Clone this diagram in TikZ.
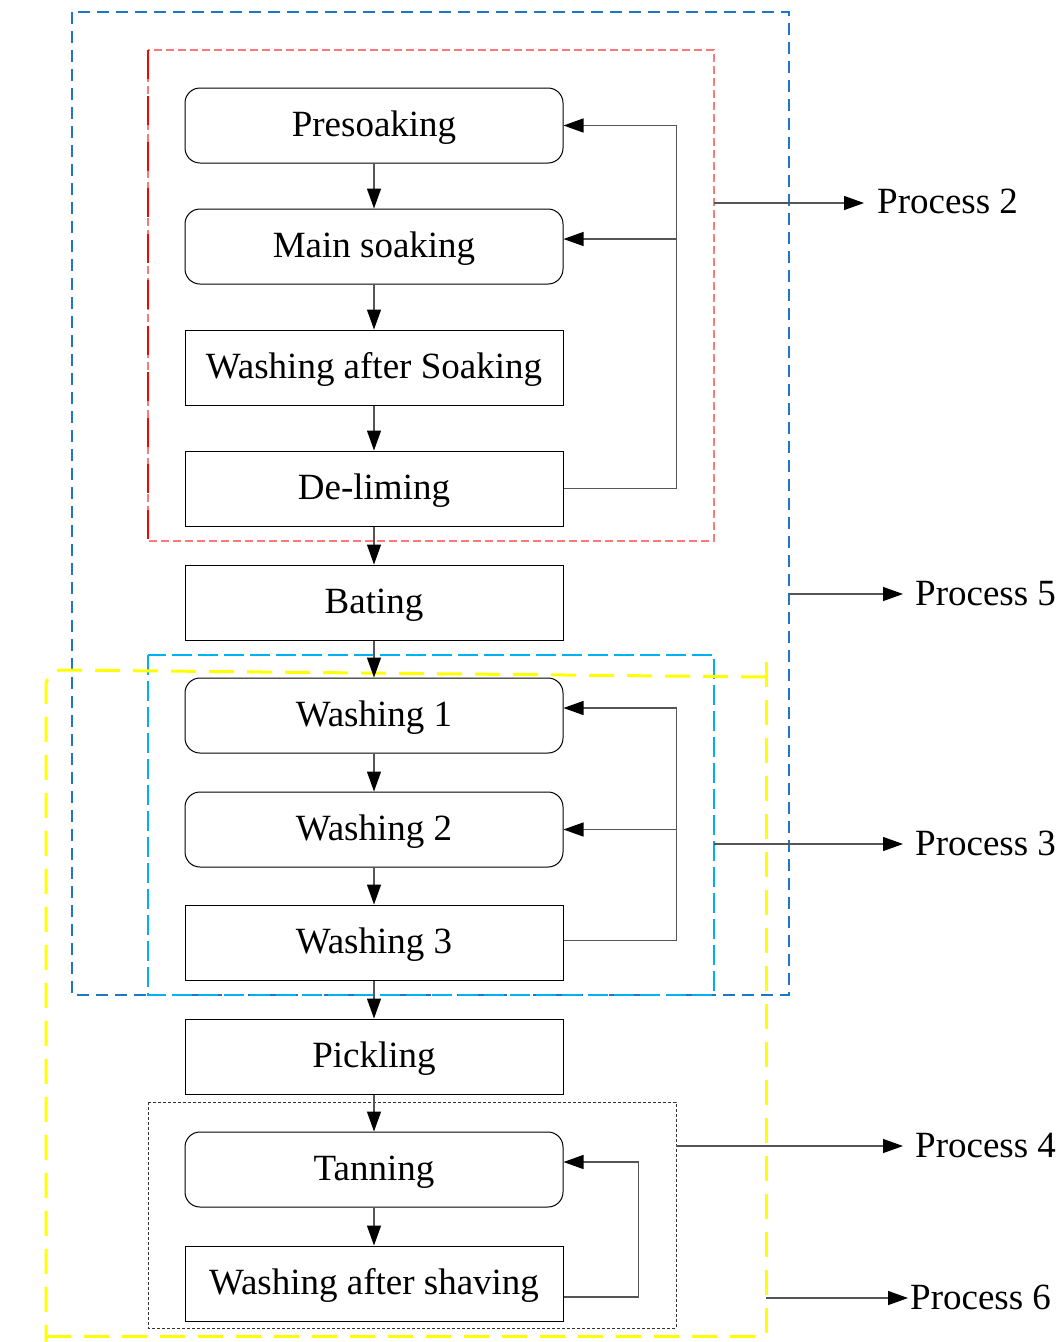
\documentclass[tikz,border=0pt]{standalone}
\usepackage{fontspec}
\setmainfont{Liberation Serif}
\usetikzlibrary{arrows.meta,calc}
\definecolor{outerblue}{RGB}{31,119,196}
\definecolor{washcyan}{RGB}{0,176,240}
\definecolor{soakred}{RGB}{255,0,0}
\definecolor{soaksalmon}{RGB}{250,120,120}
\definecolor{tanyellow}{RGB}{255,255,0}
\definecolor{linkgray}{RGB}{85,85,85}
\begin{document}
\begin{tikzpicture}[x=1pt,y=-1pt,
  stage/.style={draw=black,line width=1pt,minimum width=378pt,minimum height=75pt,
    inner sep=0pt,text height=24pt,text depth=3pt,font=\fontsize{37}{40}\selectfont},
  roundstage/.style={stage,rounded corners=15pt},
  flow/.style={draw=linkgray,line width=1.3pt,-{Triangle[length=20pt,width=14pt,color=black]}},
  link/.style={draw=linkgray,line width=1.3pt},
  proc/.style={anchor=west,inner sep=0pt,font=\fontsize{37}{40}\selectfont}]
\useasboundingbox (0,0) rectangle (1061,1342);

% process stages
\node[roundstage] (pre)  at (374,125.5)  {Presoaking};
\node[roundstage] (main) at (374,246.5)  {Main soaking};
\node[stage]      (was)  at (374,367.5)  {Washing after Soaking};
\node[stage]      (del)  at (374,488.5)  {De-liming};
\node[stage]      (bat)  at (374,602.5)  {Bating};
\node[roundstage] (w1)   at (374,715.5)  {Washing 1};
\node[roundstage] (w2)   at (374,829.5)  {Washing 2};
\node[stage]      (w3)   at (374,942.5)  {Washing 3};
\node[stage]      (pic)  at (374,1056.5) {Pickling};
\node[roundstage] (tan)  at (374,1169.5) {Tanning};
\node[stage]      (was2) at (374,1283.5) {Washing after shaving};

% group frames
\draw[outerblue,line width=2pt,dash pattern=on 12pt off 7pt] (72,12) rectangle (789,995);
\draw[soaksalmon,line width=1.5pt,dash pattern=on 8pt off 4pt] (148,50) rectangle (714,541);
\draw[soakred,line width=1.8pt,dash pattern=on 29pt off 17pt] (148,50) -- (148,541);
\draw[washcyan,line width=2pt,dash pattern=on 20pt off 6pt] (148,655) rectangle (714,995);
\draw[black!80,line width=1pt,dash pattern=on 3pt off 2pt] (148,1102) rectangle (676,1328);
\draw[tanyellow,line width=3pt,dash pattern=on 25pt off 13pt]
  (766,677) -- (62,670) arc[start angle=270,end angle=180,radius=16] -- (46,1342);
\draw[tanyellow,line width=3pt,dash pattern=on 25pt off 13pt] (46,1336) -- (766,1336);
\draw[tanyellow,line width=3pt,dash pattern=on 25pt off 13pt] (766,662) -- (766,1336);

% main flow
\draw[flow] (pre) -- (main);
\draw[flow] (main) -- (was);
\draw[flow] (was) -- (del);
\draw[flow] (del) -- (bat);
\draw[flow] (bat) -- (w1);
\draw[flow] (w1) -- (w2);
\draw[flow] (w2) -- (w3);
\draw[flow] (w3) -- (pic);
\draw[flow] (pic) -- (tan);
\draw[flow] (tan) -- (was2);

% recycling loops
\coordinate (mainin) at ($(main.east)+(0,-7.5)$);
\draw[link] (del.east) -- ++(113,0) coordinate (k1);
\draw[flow] (k1) |- (pre.east);
\draw[flow] (k1 |- mainin) -- (mainin);

\coordinate (w1in) at ($(w1.east)+(0,-7.5)$);
\draw[link] ($(w3.east)+(0,-2)$) -- ++(113,0) coordinate (k2);
\draw[flow] (k2) |- (w1in);
\draw[flow] (k2 |- w2.east) -- (w2.east);

\coordinate (tanin) at ($(tan.east)+(0,-7.5)$);
\draw[link] ($(was2.east)+(0,13.5)$) -- ++(75,0) coordinate (k3);
\draw[flow] (k3) |- (tanin);

% process labels
\node[proc] (p2) at (877,201)  {Process 2};
\node[proc] (p5) at (915,594)  {Process 5};
\node[proc] (p3) at (915,843)  {Process 3};
\node[proc] (p4) at (915,1145) {Process 4};
\node[proc] (p6) at (910,1297) {Process 6};

\coordinate (r2) at (714,203);
\coordinate (r5) at (789,594);
\coordinate (r3) at (714,844);
\coordinate (r4) at (676,1146);
\coordinate (r6) at (766,1298);
\draw[flow,shorten >=13pt] (r2) -- (r2 -| p2.west);
\draw[flow,shorten >=12pt] (r5) -- (r5 -| p5.west);
\draw[flow,shorten >=12pt] (r3) -- (r3 -| p3.west);
\draw[flow,shorten >=12pt] (r4) -- (r4 -| p4.west);
\draw[flow,shorten >=2pt]  (r6) -- (r6 -| p6.west);
\end{tikzpicture}
\end{document}
